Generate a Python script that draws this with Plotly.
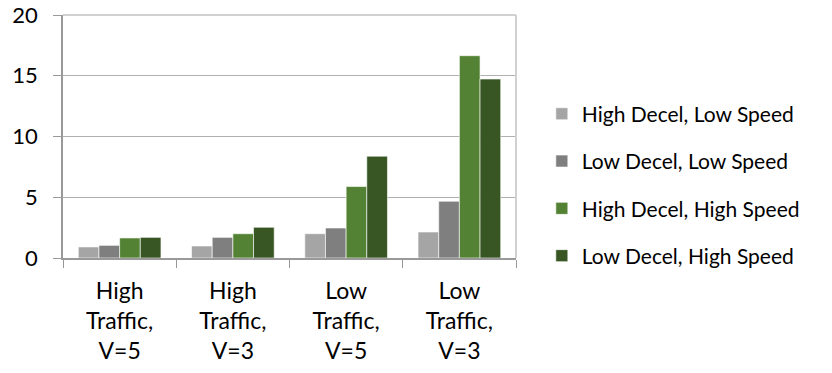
import plotly.graph_objects as go

# Scenario categories (x axis) and one value list per driving profile
categories = ["High<br>Traffic,<br>V=5", "High<br>Traffic,<br>V=3",
              "Low<br>Traffic,<br>V=5", "Low<br>Traffic,<br>V=3"]
high_decel_low_speed = [0.91, 0.99, 2.00, 2.14]
low_decel_low_speed = [1.04, 1.70, 2.47, 4.67]
high_decel_high_speed = [1.65, 2.00, 5.88, 16.65]
low_decel_high_speed = [1.70, 2.53, 8.38, 14.73]

series_names = ["High Decel, Low Speed", "Low Decel, Low Speed",
                "High Decel, High Speed", "Low Decel, High Speed"]
series_values = [high_decel_low_speed, low_decel_low_speed,
                 high_decel_high_speed, low_decel_high_speed]
series_colors = ["#A5A5A5", "#7F7F7F", "#548235", "#375623"]
y_ticks = [0, 5, 10, 15, 20]

FONT = "Lato"

fig = go.Figure()
for name, vals, color in zip(series_names, series_values, series_colors):
    fig.add_trace(go.Bar(
        x=categories, y=vals, name=name, legendgroup=name,
        marker=dict(color=color, line=dict(color="rgba(255,255,255,0.6)", width=1)),
    ))

fig.update_layout(
    width=832, height=373,
    margin=dict(l=63, r=316, t=15, b=115, autoexpand=False),
    paper_bgcolor="white", plot_bgcolor="white",
    barmode="group", bargap=0.27, bargroupgap=0,
    font=dict(family=FONT, size=21, color="#000000"),
    showlegend=True,
    legend=dict(x=1.057, xanchor="left", y=0.30, yanchor="middle",
                font=dict(family=FONT, size=21), tracegroupgap=17,
                itemwidth=30, bgcolor="rgba(0,0,0,0)"),
    xaxis=dict(
        type="category", tickson="boundaries", ticks="outside", ticklen=8,
        tickcolor="#999999", showline=True, linecolor="#999999", linewidth=1.5,
        showgrid=False, automargin=False, ticklabelstandoff=12,
        tickfont=dict(family=FONT, size=23),
    ),
    yaxis=dict(
        range=[0, 20], tickvals=y_ticks, ticks="outside", ticklen=8,
        tickcolor="#999999", showline=True, linecolor="#999999", linewidth=1.5,
        showgrid=True, gridcolor="#B0B0B0", gridwidth=1, zeroline=False,
        automargin=False, ticklabelstandoff=11,
        tickfont=dict(family=FONT, size=22),
    ),
)

# Light frame on the top and right edges of the plot area
fig.add_shape(type="line", xref="paper", yref="paper", x0=0, x1=1, y0=1, y1=1,
              line=dict(color="#D0D0D0", width=2))
fig.add_shape(type="line", xref="paper", yref="paper", x0=1, x1=1, y0=0, y1=1,
              line=dict(color="#D0D0D0", width=2))

fig.write_html("out.html")
